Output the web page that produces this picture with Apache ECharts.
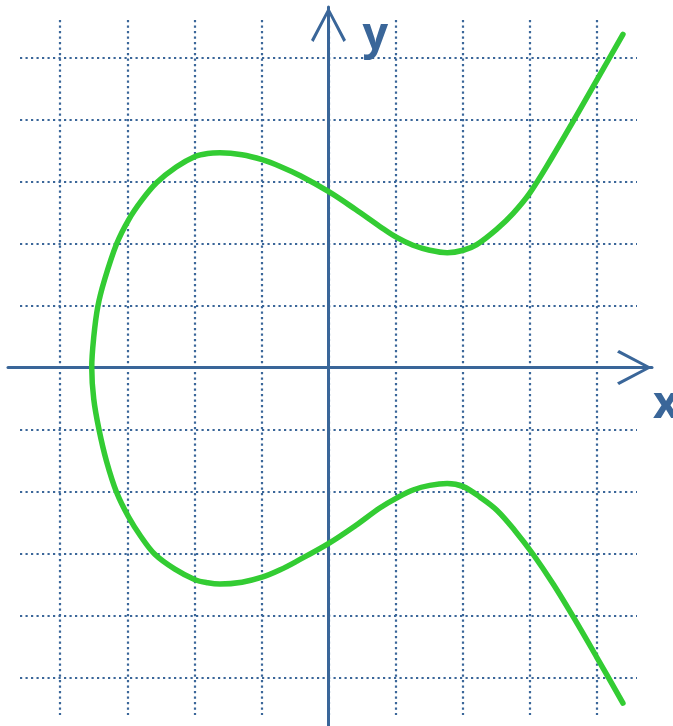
<!DOCTYPE html>
<html>
<head>
<meta charset="utf-8">
<script src="https://cdn.jsdelivr.net/npm/echarts@6/dist/echarts.min.js"></script>
<style>
  html, body { margin: 0; padding: 0; background: #fff; }
  #curve { width: 673px; height: 726px; }
</style>
</head>
<body>
<div id="curve"></div>
<script>
// points, in grid units, from the leftmost point outwards
const upperBranch = [
  [-3.53, 0], [-3.50, 0.49], [-3.44, 0.98], [-3.34, 1.41], [-3.16, 1.99],
  [-2.98, 2.38], [-2.78, 2.70], [-2.56, 2.98], [-2.27, 3.23], [-1.99, 3.40],
  [-1.80, 3.45], [-1.62, 3.46], [-1.29, 3.43], [-0.99, 3.35], [-0.72, 3.24],
  [-0.42, 3.09], [0.01, 2.83], [0.40, 2.55], [0.77, 2.27], [1.01, 2.10],
  [1.26, 1.97], [1.51, 1.89], [1.77, 1.85], [2.01, 1.89], [2.21, 1.98],
  [2.51, 2.23], [2.75, 2.48], [3.0, 2.81], [3.33, 3.38], [3.65, 3.97],
  [4.0, 4.63], [4.39, 5.37]
];
const lowerBranch = [
  [-3.53, 0], [-3.50, -0.51], [-3.42, -1.01], [-3.31, -1.51], [-3.16, -2.01],
  [-2.98, -2.41], [-2.80, -2.72], [-2.59, -3.01], [-2.29, -3.25], [-1.99, -3.42],
  [-1.80, -3.47], [-1.62, -3.49], [-1.29, -3.46], [-0.99, -3.38], [-0.72, -3.26],
  [-0.47, -3.12], [0.01, -2.83], [0.40, -2.55], [0.77, -2.26], [1.02, -2.10],
  [1.27, -1.97], [1.51, -1.90], [1.77, -1.87], [2.01, -1.92], [2.26, -2.09],
  [2.51, -2.30], [2.78, -2.63], [3.05, -3.01], [3.35, -3.49], [3.65, -4.02],
  [4.0, -4.67], [4.39, -5.41]
];
const axisNames = ['x', 'y'];

const W = 673, H = 726;
const OX = 328.5, OY = 367.5;   // pixel position of the origin
const UX = 67.07, UY = 62.05;   // pixels per unit
const BLUE = '#3A6699';
const GREEN = '#33CC33';

// pixel box -> value range
function rangeX(l, r) { return [(l - OX) / UX, (r - OX) / UX]; }
function rangeY(t, b) { return [(OY - b) / UY, (OY - t) / UY]; }

const gridBox = { left: 20, right: 637, top: 20, bottom: 715 };
const axisBox = { left: 8, right: 652, top: 7, bottom: 726 };
const gx = rangeX(gridBox.left, gridBox.right), gy = rangeY(gridBox.top, gridBox.bottom);
const ax = rangeX(axisBox.left, axisBox.right), ay = rangeY(axisBox.top, axisBox.bottom);

const chevron = 'path://M17.5,0 L35,33 L32.5,35 L17.5,6 L2.5,35 L0,33 Z';
const dotted = { color: BLUE, width: 2.2, type: [2.2, 3.3] };
const hidden = {
  axisLine: { show: false }, axisTick: { show: false }, axisLabel: { show: false }
};
const arrowLine = {
  show: true, onZero: true, lineStyle: { color: BLUE, width: 3 },
  symbol: ['none', chevron], symbolSize: [35, 35], symbolOffset: [0, -17.5]
};

const curve = upperBranch.slice().reverse().concat(lowerBranch.slice(1));

const chart = echarts.init(document.getElementById('curve'));
chart.setOption({
  animation: false,
  grid: [
    { left: gridBox.left, right: W - gridBox.right, top: gridBox.top, bottom: H - gridBox.bottom,
      outerBoundsMode: 'none' },
    { left: axisBox.left, right: W - axisBox.right, top: axisBox.top, bottom: H - axisBox.bottom,
      outerBoundsMode: 'none' }
  ],
  xAxis: [
    Object.assign({
      type: 'value', gridIndex: 0, min: gx[0], max: gx[1], minInterval: 1, maxInterval: 1,
      splitLine: { show: true, showMinLine: false, showMaxLine: false, lineStyle: dotted }
    }, hidden),
    {
      type: 'value', gridIndex: 1, min: ax[0], max: ax[1],
      axisLine: arrowLine, axisTick: { show: false }, axisLabel: { show: false }, splitLine: { show: false }
    }
  ],
  yAxis: [
    Object.assign({
      type: 'value', gridIndex: 0, min: gy[0], max: gy[1], minInterval: 1, maxInterval: 1,
      splitLine: { show: true, showMinLine: false, showMaxLine: false, lineStyle: dotted }
    }, hidden),
    {
      type: 'value', gridIndex: 1, min: ay[0], max: ay[1],
      axisLine: arrowLine, axisTick: { show: false }, axisLabel: { show: false }, splitLine: { show: false }
    }
  ],
  series: [
    {
      type: 'line', xAxisIndex: 0, yAxisIndex: 0,
      data: curve, smooth: 0.35, showSymbol: false, clip: false, z: 5,
      lineStyle: { color: GREEN, width: 5.5, cap: 'round', join: 'round' }
    }
  ]
});

// axis letters next to the arrow tips
const xTip = chart.convertToPixel({ xAxisIndex: 1, yAxisIndex: 1 }, [ax[1], 0]);
const yTip = chart.convertToPixel({ xAxisIndex: 1, yAxisIndex: 1 }, [0, ay[1]]);
const labelStyle = {
  fill: BLUE, fontFamily: 'Open Sans', fontWeight: 'bold', fontSize: 45,
  align: 'left', verticalAlign: 'middle', textAlign: 'left', textVerticalAlign: 'middle'
};
chart.setOption({
  graphic: [
    { type: 'text', x: xTip[0] + 1, y: xTip[1] + 38, z: 10,
      style: Object.assign({ text: axisNames[0] }, labelStyle) },
    { type: 'text', x: yTip[0] + 34, y: yTip[1] + 29, z: 10,
      style: Object.assign({ text: axisNames[1] }, labelStyle) }
  ]
});
</script>
</body>
</html>
